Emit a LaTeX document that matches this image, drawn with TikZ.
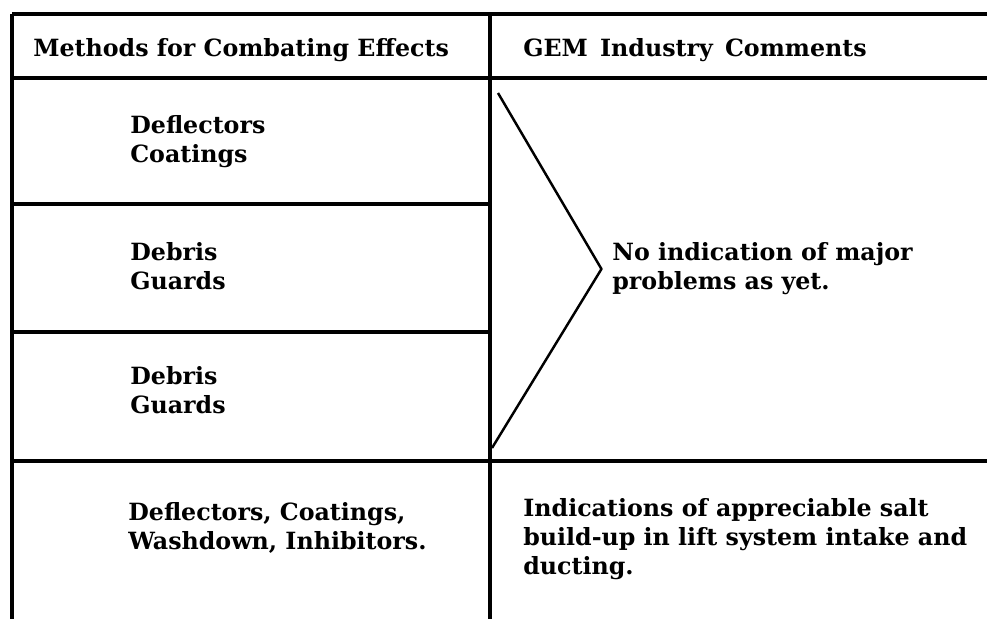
\documentclass[tikz,border=0pt]{standalone}
\usepackage{fontspec}
\setmainfont{DejaVu Serif}
\usetikzlibrary{positioning}

\tikzset{
    rule/.style={line width=1.8pt},
    brace/.style={line width=1.4pt, line join=round},
    celltext/.style={font=\bfseries\fontsize{13.5}{16.5}\selectfont,
        align=left, inner sep=0pt, anchor=west}
}

\begin{document}
\begin{tikzpicture}[x=0.02cm,y=-0.02cm]

    \useasboundingbox (0,0) rectangle (987,619);

    % table corners
    \coordinate (topleft) at (12,14);
    \coordinate (topmid) at (490,14);
    \coordinate (topright) at (987,14);
    \coordinate (botleft) at (12,619);
    \coordinate (botmid) at (490,619);

    % row dividers
    \coordinate (headleft) at (12,78);
    \coordinate (headright) at (987,78);
    \coordinate (rowaleft) at (12,204);
    \coordinate (rowamid) at (490,204);
    \coordinate (rowbleft) at (12,332);
    \coordinate (rowbmid) at (490,332);
    \coordinate (rowcleft) at (12,461);
    \coordinate (rowcright) at (987,461);

    % header
    \node[celltext] (methods) at (33,50) {Methods for Combating Effects};
    \node[celltext] (comments) at (523,50) {GEM\, Industry\, Comments};

    % left column
    \node[celltext] (deflectors) at (130,142) {Deflectors\\Coatings};
    \node[celltext] (debrisa) at (130,266) {Debris\\Guards};
    \node[celltext] (debrisb) at (130,390) {Debris\\Guards};
    \node[celltext] (washdown) at (128,528)
        {Deflectors, Coatings,\\Washdown, Inhibitors.};

    % right column
    \node[celltext] (noproblems) at (612,269)
        {No indication of major\\problems as yet.};
    \node[celltext] (saltbuild) at (523,539)
        {Indications of appreciable salt\\build-up in lift system intake and\\ducting.};

    % grid lines
    \draw[rule] (topleft) -- (topright);
    \draw[rule] (headleft) -- (headright);
    \draw[rule] (rowaleft) -- (rowamid);
    \draw[rule] (rowbleft) -- (rowbmid);
    \draw[rule] (rowcleft) -- (rowcright);
    \draw[rule] (topleft) -- (botleft);
    \draw[rule] (topmid) -- (botmid);

    % bracket to the comment
    \coordinate (bracetop) at (498,93);
    \coordinate (bracebot) at (492,448);
    \coordinate (bracetip) at ([xshift=-6pt]noproblems.west);
    \draw[brace] (bracetop) -- (bracetip) -- (bracebot);

\end{tikzpicture}
\end{document}
